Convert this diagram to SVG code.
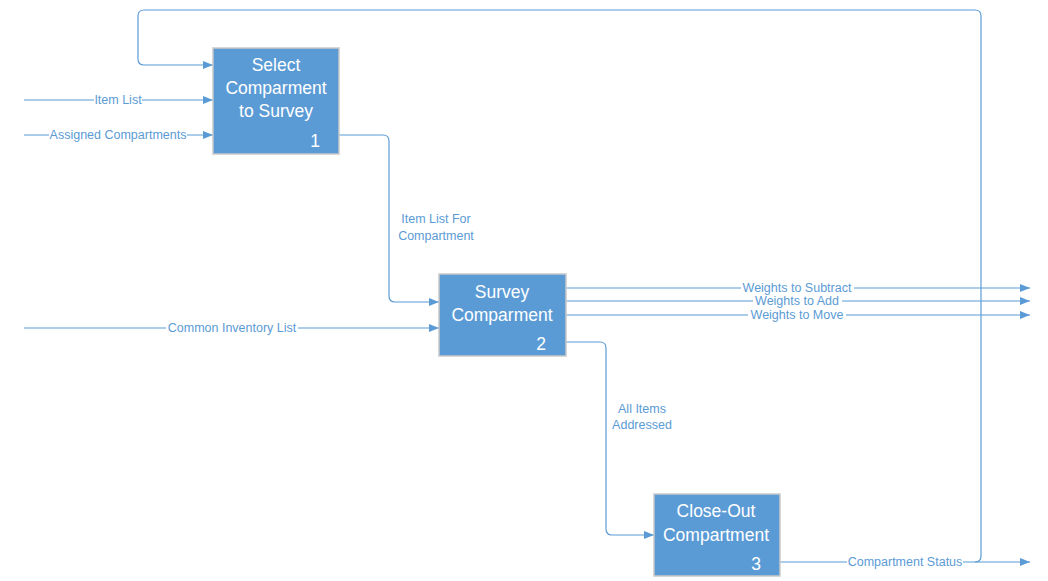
<svg xmlns="http://www.w3.org/2000/svg" width="1048" height="581" viewBox="0 0 1048 581">
<defs>
<style>
.box{fill:#5B9BD5;stroke:#C9C9C9;stroke-width:1.5}
.bt{font-family:"Liberation Sans",Arial,sans-serif;font-size:17.5px;fill:#FFFFFF;text-anchor:middle}
.ln{fill:none;stroke:#5B9BD5;stroke-width:1.2}
.arr{fill:none;stroke:#5B9BD5;stroke-width:1.2;marker-end:url(#ah)}
.lb{font-family:"Liberation Sans",Arial,sans-serif;font-size:12.5px;fill:#5B9BD5;text-anchor:middle}
.bg{fill:#FFFFFF}
</style>
<marker id="ah" viewBox="0 0 10 10" refX="10" refY="5" markerWidth="10" markerHeight="10" markerUnits="userSpaceOnUse" orient="auto">
<path d="M0,1 L10,5 L0,9 Z" fill="#5B9BD5"/>
</marker>
</defs>
<rect width="1048" height="581" fill="#FFFFFF"/>
<g id="connectors">
<path class="arr" d="M975,562 Q981,562 981,556 V16 Q981,10 975,10 H144 Q138,10 138,16 V59 Q138,65 144,65 H213"/>
<path class="arr" d="M24,100 H213"/>
<path class="arr" d="M24,135 H213"/>
<path class="arr" d="M339,135 H383 Q389,135 389,141 V296 Q389,302 395,302 H439"/>
<path class="arr" d="M24,328 H439"/>
<path class="arr" d="M566,288 H1030"/>
<path class="arr" d="M566,301 H1030"/>
<path class="arr" d="M566,315 H1030"/>
<path class="arr" d="M566,342 H600 Q606,342 606,348 V529 Q606,535 612,535 H654"/>
<path class="arr" d="M780,562 H1030"/>
</g>
<g id="labels">
<rect class="bg" x="94" y="93" width="48" height="14"/>
<text class="lb" x="118" y="104">Item List</text>
<rect class="bg" x="49" y="128" width="138" height="14"/>
<text class="lb" x="118" y="139">Assigned Compartments</text>
<text class="lb" x="436" y="223">Item List For</text>
<text class="lb" x="436" y="240">Compartment</text>
<rect class="bg" x="166" y="321" width="132" height="14"/>
<text class="lb" x="232" y="332">Common Inventory List</text>
<rect class="bg" x="741" y="282" width="113" height="12"/>
<text class="lb" x="797" y="292">Weights to Subtract</text>
<rect class="bg" x="753" y="295" width="89" height="12"/>
<text class="lb" x="797" y="305">Weights to Add</text>
<rect class="bg" x="748" y="309" width="98" height="12"/>
<text class="lb" x="797" y="319">Weights to Move</text>
<text class="lb" x="642" y="413">All Items</text>
<text class="lb" x="642" y="429">Addressed</text>
<rect class="bg" x="847" y="555" width="116" height="14"/>
<text class="lb" x="905" y="566">Compartment Status</text>
</g>
<g id="node1">
<rect class="box" x="213" y="48" width="126" height="106"/>
<text class="bt" x="276" y="71">Select</text>
<text class="bt" x="276" y="94">Comparment</text>
<text class="bt" x="276" y="117">to Survey</text>
<text class="bt" x="315" y="147">1</text>
</g>
<g id="node2">
<rect class="box" x="439" y="274" width="127" height="82"/>
<text class="bt" x="502" y="298">Survey</text>
<text class="bt" x="502" y="321">Comparment</text>
<text class="bt" x="541" y="350">2</text>
</g>
<g id="node3">
<rect class="box" x="654" y="494" width="126" height="82"/>
<text class="bt" x="716" y="517">Close-Out</text>
<text class="bt" x="716" y="541">Compartment</text>
<text class="bt" x="756" y="570">3</text>
</g>
</svg>
